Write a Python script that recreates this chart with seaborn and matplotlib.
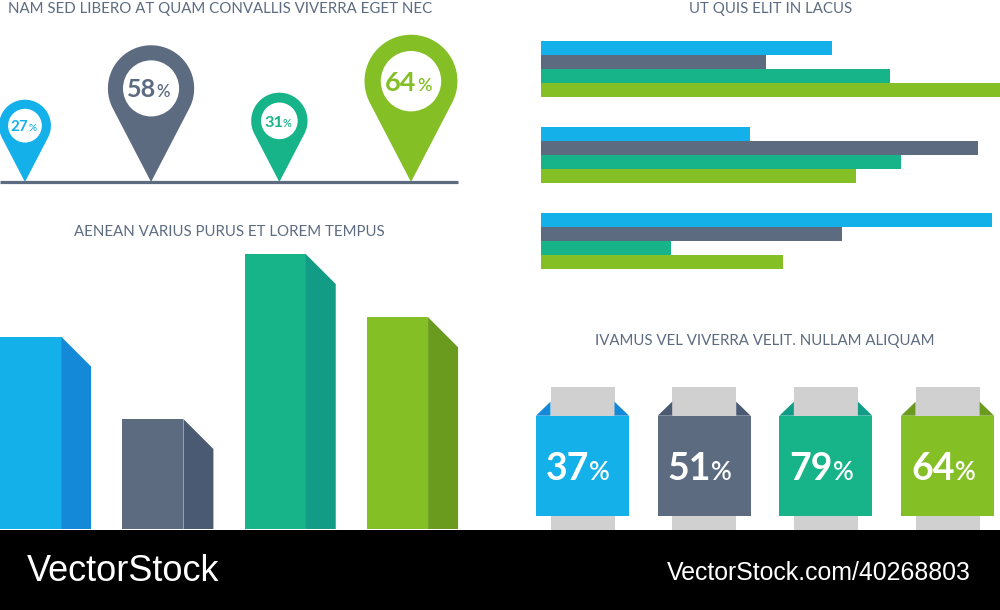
import numpy as np
import pandas as pd
import seaborn as sns
import matplotlib.pyplot as plt
from matplotlib.patches import Polygon, Rectangle, Circle

# colours (front faces and darker side faces)
palette = ['#13b0ea', '#5c6b80', '#16b488', '#84bf26']
shade = ['#1489d8', '#4a5a72', '#129c86', '#6a9a1e']
grey_strip = '#d0d0d0'
title_col = '#5c6b80'

# data
pin_values = [27, 58, 31, 64]

hbar_groups = ['G1', 'G2', 'G3']
hbar_series = ['blue', 'slate', 'teal', 'green']
hbar_blue = [63.4, 45.5, 98.3]
hbar_slate = [49.0, 95.2, 65.6]
hbar_teal = [76.0, 78.4, 28.3]
hbar_green = [100.0, 68.6, 52.7]

col_categories = ['A', 'B', 'C', 'D']
col_values = [70, 40, 100, 77]

card_values = [37, 51, 79, 64]

titles = ['NAM SED LIBERO AT QUAM CONVALLIS VIVERRA EGET NEC',
          'UT QUIS ELIT IN LACUS',
          'AENEAN VARIUS PURUS ET LOREM TEMPUS',
          'IVAMUS VEL VIVERRA VELIT. NULLAM ALIQUAM']

sns.set_theme(style='white')
plt.rcParams['font.family'] = ['Lato', 'DejaVu Sans']

W, H = 1000, 610
fig = plt.figure(figsize=(W / 100, H / 100), dpi=100)
fig.patch.set_facecolor('white')


def px_axes(x0, y0, x1, y1):
    # axes placed by pixel box (top-left origin)
    ax = fig.add_axes([x0 / W, 1 - y1 / H, (x1 - x0) / W, (y1 - y0) / H])
    ax.set_axis_off()
    return ax


def fig_text(x, y, s, **kw):
    fig.text(x / W, 1 - y / H, s, **kw)


# ---- panel 1: map pins ----
ax1 = px_axes(0, 20, 470, 190)
ax1.set_xlim(0, 470)
ax1.set_ylim(0, 170)
base = 8
ax1.plot([0, 458], [base, base], color=palette[1], lw=2.3, solid_capstyle='butt')

x_left = -1
for i, v in enumerate(pin_values):
    R = 11 + 0.554 * v
    cx = x_left + R
    x_left += 2 * R + 57
    d = 2.17 * R
    cy = base + d
    phi = np.arccos(R / d)
    t = np.linspace(-np.pi / 2 + phi, 1.5 * np.pi - phi, 120)
    pts = [(cx, base)] + list(zip(cx + R * np.cos(t), cy + R * np.sin(t)))
    ax1.add_patch(Polygon(pts, closed=True, color=palette[i], lw=0))
    ax1.add_patch(Circle((cx, cy), 0.65 * R, color='white', lw=0))
    fs = 0.42 * R
    split = cx + 0.3 * fs
    yb = cy - 0.21 * R
    ax1.text(split, yb, str(v), ha='right', va='baseline', fontsize=fs,
             fontweight='bold', color=palette[i])
    ax1.text(split, yb, '%', ha='left', va='baseline', fontsize=fs * 0.66,
             fontweight='semibold', color=palette[i])

# ---- panel 2: grouped horizontal bars ----
hbar = pd.DataFrame({
    'group': hbar_groups * 4,
    'series': np.repeat(hbar_series, 3),
    'value': hbar_blue + hbar_slate + hbar_teal + hbar_green,
})
ax2 = px_axes(541, 26, 1000, 284)
sns.barplot(data=hbar, x='value', y='group', hue='series', hue_order=hbar_series,
            palette=palette, orient='h', width=0.651, gap=0, saturation=1,
            linewidth=0, legend=False, ax=ax2)
ax2.set_xlim(0, 100)
ax2.set_ylim(2.5, -0.5)
ax2.set_axis_off()

# ---- panel 3: pseudo-3D columns ----
ax3 = px_axes(0, 240, 460, 529)
sns.barplot(x=col_categories, y=col_values, hue=col_categories, palette=palette,
            width=0.5, saturation=1, linewidth=0, legend=False, ax=ax3)
pitch = 122.33
ax3.set_xlim(-30.5 / pitch, 460 / pitch - 30.5 / pitch)
ax3.set_ylim(0, 105.1)
ax3.set_axis_off()
side_w = 30 / pitch
side_dy = 30 * 105.1 / 289
for i, p in enumerate(sorted(ax3.patches, key=lambda q: q.get_x())):
    x1 = p.get_x() + p.get_width()
    h = p.get_height()
    ax3.add_patch(Polygon([(x1, 0), (x1, h), (x1 + side_w, h - side_dy),
                           (x1 + side_w, 0)], closed=True, color=shade[i], lw=0))

# ---- panel 4: label cards ----
ax4 = px_axes(520, 380, 1000, 530)
ax4.set_xlim(520, 1000)
ax4.set_ylim(0, 150)
for i, v in enumerate(card_values):
    cx = 582.5 + 121.7 * i
    ax4.add_patch(Rectangle((cx - 32, 0), 64, 143.3, color=grey_strip, lw=0, zorder=1))
    ax4.add_patch(Polygon([(cx - 46.5, 114.3), (cx - 32, 128.3), (cx - 32, 114.3)],
                          color=shade[i], lw=0, zorder=2))
    ax4.add_patch(Polygon([(cx + 46.5, 114.3), (cx + 32, 128.3), (cx + 32, 114.3)],
                          color=shade[i], lw=0, zorder=2))
    ax4.add_patch(Rectangle((cx - 46.5, 14), 93, 100.3, color=palette[i], lw=0, zorder=3))
    ax4.text(cx + 7, 50, str(v), ha='right', va='baseline', fontsize=27,
             fontweight='bold', color='white', zorder=4)
    ax4.text(cx + 7, 50, '%', ha='left', va='baseline', fontsize=18.5,
             fontweight='semibold', color='white', zorder=4)

# ---- titles ----
fig_text(220.5, 12.5, titles[0], ha='center', va='baseline', fontsize=10.8, color=title_col)
fig_text(771, 13.3, titles[1], ha='center', va='baseline', fontsize=10.8, color=title_col)
fig_text(229, 236, titles[2], ha='center', va='baseline', fontsize=10.8, color=title_col)
fig_text(764.5, 345, titles[3], ha='center', va='baseline', fontsize=10.8, color=title_col)

# ---- footer ----
fig.add_artist(Rectangle((0, 0), 1, 80 / H, transform=fig.transFigure,
                         color='black', lw=0))
foot_font = ['Liberation Sans Narrow', 'Liberation Sans', 'DejaVu Sans']
fig_text(27, 581, 'VectorStock', ha='left', va='baseline', fontsize=26,
         color='white', family=foot_font)
fig_text(971, 580, 'VectorStock.com/40268803', ha='right', va='baseline',
         fontsize=17.9, color='white', family=foot_font)

fig.savefig('out.png', dpi=100)
